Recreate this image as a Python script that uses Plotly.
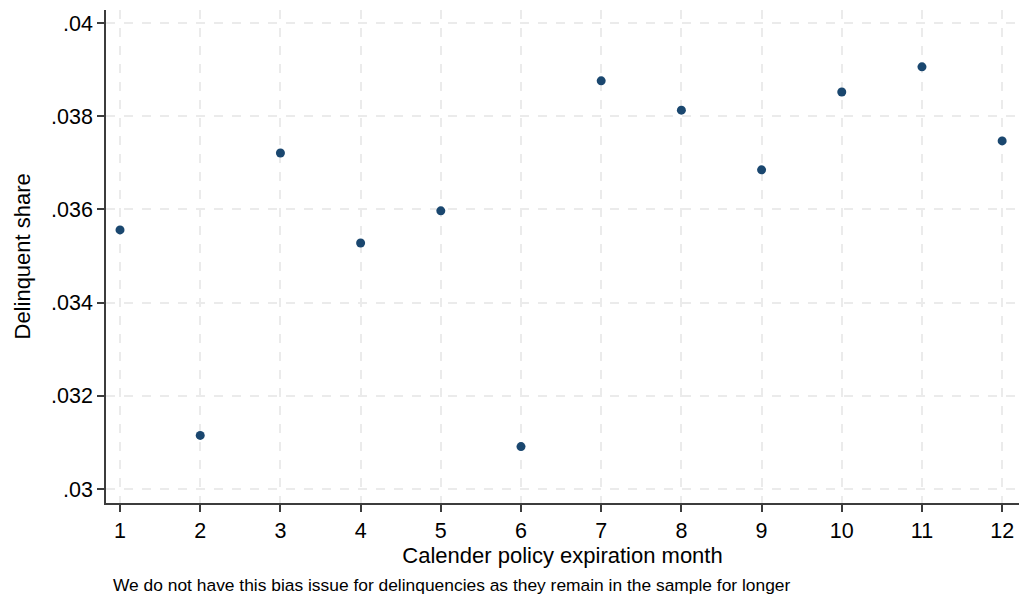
import plotly.graph_objects as go

months = [1, 2, 3, 4, 5, 6, 7, 8, 9, 10, 11, 12]
share = [0.03556, 0.03115, 0.03721, 0.03528, 0.03597, 0.03091,
         0.03876, 0.03813, 0.03685, 0.03852, 0.03906, 0.03747]
ytick_vals = [0.03, 0.032, 0.034, 0.036, 0.038, 0.04]
ytick_text = [".03", ".032", ".034", ".036", ".038", ".04"]

fig = go.Figure()
fig.add_trace(go.Scatter(
    x=months, y=share, mode="markers",
    marker=dict(color="#1a476f", size=9, line=dict(width=0)),
    showlegend=False,
))

fig.update_layout(
    width=1021, height=599,
    margin=dict(l=106, r=2, t=10, b=96),
    paper_bgcolor="white", plot_bgcolor="white",
    font=dict(family="Arial, Liberation Sans, sans-serif", color="black"),
    xaxis=dict(
        range=[0.825, 12.21], tickvals=months, ticktext=[str(m) for m in months],
        showline=True, linecolor="#3c3c3c", linewidth=1.5,
        ticks="outside", ticklen=7, tickcolor="#3c3c3c", tickwidth=1.5,
        showgrid=True, gridcolor="#ebebeb", griddash="dash", gridwidth=1.5,
        zeroline=False, tickfont=dict(size=21.5),
        title=dict(text="Calender policy expiration month", font=dict(size=22), standoff=4),
    ),
    yaxis=dict(
        range=[0.0297, 0.04028], tickvals=ytick_vals, ticktext=ytick_text,
        showline=True, linecolor="#3c3c3c", linewidth=1.5,
        ticks="outside", ticklen=7, tickcolor="#3c3c3c", tickwidth=1.5,
        showgrid=True, gridcolor="#ebebeb", griddash="dash", gridwidth=1.5,
        zeroline=False, tickfont=dict(size=21.5),
    ),
    annotations=[
        dict(
            text="Delinquent share", textangle=-90,
            xref="paper", yref="paper", x=-0.092, y=0.5, xanchor="center", yanchor="middle",
            showarrow=False, font=dict(size=22),
        ),
        dict(
            text="We do not have this bias issue for delinquencies as they remain in the sample for longer",
            xref="paper", yref="paper", x=0.005, y=-0.142, xanchor="left", yanchor="top",
            showarrow=False, font=dict(size=17.4),
        ),
    ],
)

fig.write_html("out.html", config={"displayModeBar": False},
               post_script="document.body.style.margin='0';document.body.style.overflow='hidden';")
